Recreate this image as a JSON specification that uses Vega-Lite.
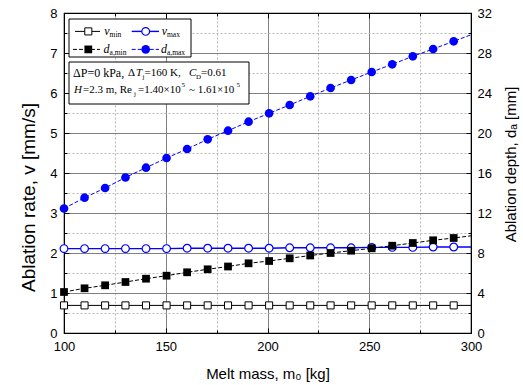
{
  "$schema": "https://vega.github.io/schema/vega-lite/v6.json",
  "width": 407,
  "height": 320,
  "autosize": {"type": "none"},
  "padding": {"left": 64, "top": 13, "right": 52, "bottom": 52},
  "background": "white",
  "config": {
    "view": {"stroke": "black", "strokeWidth": 1.2},
    "axis": {
      "labelFont": "Liberation Sans", "labelFontSize": 13, "labelColor": "black",
      "titleFont": "Liberation Sans", "titleFontSize": 15, "titleFontWeight": "normal", "titleColor": "black",
      "domainColor": "black", "tickColor": "black", "labelFlush": false, "labelOverlap": false
    },
    "text": {"color": "black", "font": "Liberation Serif"}
  },
  "datasets": {
    "series": [
      {"m": 100, "vmin": 0.69, "vmax": 2.11, "dmin": 4.1, "dmax": 12.45},
      {"m": 110.1, "vmin": 0.69, "vmax": 2.11, "dmin": 4.47, "dmax": 13.53},
      {"m": 120.2, "vmin": 0.69, "vmax": 2.11, "dmin": 4.77, "dmax": 14.5},
      {"m": 130.2, "vmin": 0.69, "vmax": 2.11, "dmin": 5.1, "dmax": 15.55},
      {"m": 140.3, "vmin": 0.69, "vmax": 2.11, "dmin": 5.43, "dmax": 16.53},
      {"m": 150.4, "vmin": 0.69, "vmax": 2.11, "dmin": 5.73, "dmax": 17.5},
      {"m": 160.5, "vmin": 0.69, "vmax": 2.12, "dmin": 6.07, "dmax": 18.4},
      {"m": 170.6, "vmin": 0.69, "vmax": 2.12, "dmin": 6.37, "dmax": 19.37},
      {"m": 180.6, "vmin": 0.69, "vmax": 2.12, "dmin": 6.65, "dmax": 20.23},
      {"m": 190.7, "vmin": 0.69, "vmax": 2.12, "dmin": 6.97, "dmax": 21.13},
      {"m": 200.8, "vmin": 0.69, "vmax": 2.12, "dmin": 7.2, "dmax": 21.97},
      {"m": 210.9, "vmin": 0.69, "vmax": 2.13, "dmin": 7.47, "dmax": 22.8},
      {"m": 221.0, "vmin": 0.69, "vmax": 2.13, "dmin": 7.75, "dmax": 23.67},
      {"m": 231.0, "vmin": 0.69, "vmax": 2.13, "dmin": 8.0, "dmax": 24.5},
      {"m": 241.1, "vmin": 0.69, "vmax": 2.13, "dmin": 8.23, "dmax": 25.3},
      {"m": 251.2, "vmin": 0.69, "vmax": 2.14, "dmin": 8.47, "dmax": 26.1},
      {"m": 261.3, "vmin": 0.69, "vmax": 2.14, "dmin": 8.73, "dmax": 26.87},
      {"m": 271.4, "vmin": 0.69, "vmax": 2.14, "dmin": 9.0, "dmax": 27.67},
      {"m": 281.4, "vmin": 0.69, "vmax": 2.15, "dmin": 9.27, "dmax": 28.4},
      {"m": 291.5, "vmin": 0.69, "vmax": 2.15, "dmin": 9.5, "dmax": 29.17},
      {"m": 300, "vmin": 0.69, "vmax": 2.15, "dmin": 9.72, "dmax": 29.82}
    ]
  },
  "data": {"name": "series"},
  "layer": [
    {
      "layer": [
        {
          "mark": {"type": "line", "color": "black", "strokeWidth": 1},
          "encoding": {
            "x": {"field": "m", "type": "quantitative", "scale": {"domain": [100, 300], "nice": false, "zero": false},
              "axis": {"orient": "bottom", "values": [100, 125, 150, 175, 200, 225, 250, 275, 300], "tickCount": 100, "format": "~g",
                "labelExpr": "datum.value % 50 == 0 ? datum.label : ''", "labelOverlap": false,
                "tickSize": {"condition": {"test": "datum.value % 50 == 0", "value": -5}, "value": -3},
                "labelPadding": 12, "grid": true,
                "gridColor": {"condition": {"test": "datum.value % 50 == 0", "value": "#808080"}, "value": "#b8b8b8"},
                "gridDash": {"condition": {"test": "datum.value % 50 == 0", "value": []}, "value": [2, 2]},
                "title": "Melt mass, m₀ [kg]", "titlePadding": 11}},
            "y": {"field": "vmin", "type": "quantitative", "scale": {"domain": [0, 8], "nice": false},
              "axis": {"orient": "left", "values": [0, 0.5, 1, 1.5, 2, 2.5, 3, 3.5, 4, 4.5, 5, 5.5, 6, 6.5, 7, 7.5, 8], "tickCount": 100, "format": "~g",
                "labelExpr": "datum.value % 1 == 0 ? datum.label : ''", "labelOverlap": false,
                "tickSize": {"condition": {"test": "datum.value % 1 == 0", "value": -5}, "value": -3},
                "labelPadding": 12, "grid": true,
                "gridColor": {"condition": {"test": "datum.value % 1 == 0", "value": "#808080"}, "value": "#b8b8b8"},
                "gridDash": {"condition": {"test": "datum.value % 1 == 0", "value": []}, "value": [2, 2]},
                "title": "Ablation rate, v [mm/s]", "titleFontSize": 19, "titleAngle": -90,
                "titleX": -36, "titleY": 184, "titleAlign": "center", "titleBaseline": "middle"}}
          }
        },
        {
          "mark": {"type": "line", "color": "#0000ff", "strokeWidth": 1.4},
          "encoding": {
            "x": {"field": "m", "type": "quantitative"},
            "y": {"field": "vmax", "type": "quantitative"}
          }
        },
        {
          "transform": [{"filter": "datum.m < 299"}],
          "mark": {"type": "point", "shape": "square", "filled": true, "fill": "white", "stroke": "black", "strokeWidth": 1, "size": 50, "opacity": 1},
          "encoding": {
            "x": {"field": "m", "type": "quantitative"},
            "y": {"field": "vmin", "type": "quantitative"}
          }
        },
        {
          "transform": [{"filter": "datum.m < 299"}],
          "mark": {"type": "point", "shape": "circle", "filled": true, "fill": "white", "stroke": "#0000ff", "strokeWidth": 1.2, "size": 60, "opacity": 1},
          "encoding": {
            "x": {"field": "m", "type": "quantitative"},
            "y": {"field": "vmax", "type": "quantitative"}
          }
        }
      ]
    },
    {
      "layer": [
        {
          "mark": {"type": "line", "color": "black", "strokeWidth": 1, "strokeDash": [4, 2]},
          "encoding": {
            "x": {"field": "m", "type": "quantitative",
              "axis": {"orient": "top", "values": [100, 125, 150, 175, 200, 225, 250, 275, 300], "tickCount": 100, "labels": false, "grid": false, "title": null,
                "tickSize": {"condition": {"test": "datum.value % 50 == 0", "value": -5}, "value": -3}}},
            "y": {"field": "dmin", "type": "quantitative", "scale": {"domain": [0, 32], "nice": false},
              "axis": {"orient": "right", "values": [0, 2, 4, 6, 8, 10, 12, 14, 16, 18, 20, 22, 24, 26, 28, 30, 32], "tickCount": 100, "format": "~g",
                "labelExpr": "datum.value % 4 == 0 ? datum.label : ''", "labelOverlap": false,
                "tickSize": {"condition": {"test": "datum.value % 4 == 0", "value": -5}, "value": -3},
                "labelPadding": 11, "grid": false,
                "title": "Ablation depth, dₐ [mm]", "titleAngle": -90, "titleX": 39, "titleY": 151,
                "titleAlign": "center", "titleBaseline": "middle"}}
          }
        },
        {
          "mark": {"type": "line", "color": "#0000ff", "strokeWidth": 1, "strokeDash": [4, 2]},
          "encoding": {
            "x": {"field": "m", "type": "quantitative"},
            "y": {"field": "dmax", "type": "quantitative"}
          }
        },
        {
          "transform": [{"filter": "datum.m < 299"}],
          "mark": {"type": "point", "shape": "square", "filled": true, "color": "black", "size": 60, "opacity": 1},
          "encoding": {
            "x": {"field": "m", "type": "quantitative"},
            "y": {"field": "dmin", "type": "quantitative"}
          }
        },
        {
          "transform": [{"filter": "datum.m < 299"}],
          "mark": {"type": "point", "shape": "circle", "filled": true, "color": "#0000ff", "size": 75, "opacity": 1},
          "encoding": {
            "x": {"field": "m", "type": "quantitative"},
            "y": {"field": "dmax", "type": "quantitative"}
          }
        }
      ]
    },
    {
      "data": {"values": [{}]},
      "layer": [
        {
          "mark": {"type": "rect", "fill": "white", "stroke": "black", "strokeWidth": 1},
          "encoding": {
            "x": {"datum": 102.46, "type": "quantitative", "axis": null},
            "x2": {"datum": 162.41},
            "y": {"datum": 7.85, "type": "quantitative", "axis": null, "scale": {"domain": [0, 8], "nice": false}},
            "y2": {"datum": 6.9}
          }
        },
        {
          "mark": {"type": "rect", "fill": "white", "stroke": "black", "strokeWidth": 1},
          "encoding": {
            "x": {"datum": 102.46, "type": "quantitative", "axis": null},
            "x2": {"datum": 190.91},
            "y": {"datum": 6.775, "type": "quantitative", "axis": null},
            "y2": {"datum": 5.725}
          }
        },
        {
          "mark": {"type": "rule", "color": "black", "strokeWidth": 1},
          "encoding": {"x": {"datum": 105.41, "type": "quantitative", "axis": null}, "x2": {"datum": 117.69}, "y": {"datum": 7.54, "type": "quantitative", "axis": null}}
        },
        {
          "mark": {"type": "point", "shape": "square", "filled": true, "fill": "white", "stroke": "black", "strokeWidth": 1, "size": 50, "opacity": 1},
          "encoding": {"x": {"datum": 111.94, "type": "quantitative", "axis": null}, "y": {"datum": 7.54, "type": "quantitative", "axis": null}}
        },
        {
          "mark": {"type": "rule", "color": "#0000ff", "strokeWidth": 1.4},
          "encoding": {"x": {"datum": 133.27, "type": "quantitative", "axis": null}, "x2": {"datum": 146.68}, "y": {"datum": 7.54, "type": "quantitative", "axis": null}}
        },
        {
          "mark": {"type": "point", "shape": "circle", "filled": true, "fill": "white", "stroke": "#0000ff", "strokeWidth": 1.2, "size": 60, "opacity": 1},
          "encoding": {"x": {"datum": 140.15, "type": "quantitative", "axis": null}, "y": {"datum": 7.54, "type": "quantitative", "axis": null}}
        },
        {
          "mark": {"type": "rule", "color": "black", "strokeWidth": 1, "strokeDash": [4, 2]},
          "encoding": {"x": {"datum": 104.4, "type": "quantitative", "axis": null}, "x2": {"datum": 117.69}, "y": {"datum": 7.09, "type": "quantitative", "axis": null}}
        },
        {
          "mark": {"type": "point", "shape": "square", "filled": true, "color": "black", "size": 60, "opacity": 1},
          "encoding": {"x": {"datum": 111.94, "type": "quantitative", "axis": null}, "y": {"datum": 7.09, "type": "quantitative", "axis": null}}
        },
        {
          "mark": {"type": "rule", "color": "#0000ff", "strokeWidth": 1, "strokeDash": [4, 2]},
          "encoding": {"x": {"datum": 133.27, "type": "quantitative", "axis": null}, "x2": {"datum": 146.68}, "y": {"datum": 7.09, "type": "quantitative", "axis": null}}
        },
        {
          "mark": {"type": "point", "shape": "circle", "filled": true, "color": "#0000ff", "size": 75, "opacity": 1},
          "encoding": {"x": {"datum": 140.15, "type": "quantitative", "axis": null}, "y": {"datum": 7.09, "type": "quantitative", "axis": null}}
        },
        {
          "mark": {"type": "text", "text": "v", "color": "black", "font": "Liberation Serif", "fontStyle": "italic", "fontSize": 12, "align": "left", "baseline": "middle"},
          "encoding": {"x": {"datum": 119.8, "type": "quantitative", "axis": null}, "y": {"datum": 7.54, "type": "quantitative", "axis": null}}
        },
        {
          "mark": {"type": "text", "text": "min", "color": "black", "font": "Liberation Serif", "fontSize": 7.5, "align": "left", "baseline": "middle", "dy": 4},
          "encoding": {"x": {"datum": 122.4, "type": "quantitative", "axis": null}, "y": {"datum": 7.54, "type": "quantitative", "axis": null}}
        },
        {
          "mark": {"type": "text", "text": "v", "color": "black", "font": "Liberation Serif", "fontStyle": "italic", "fontSize": 12, "align": "left", "baseline": "middle"},
          "encoding": {"x": {"datum": 148.01, "type": "quantitative", "axis": null}, "y": {"datum": 7.54, "type": "quantitative", "axis": null}}
        },
        {
          "mark": {"type": "text", "text": "max", "color": "black", "font": "Liberation Serif", "fontSize": 7.5, "align": "left", "baseline": "middle", "dy": 4},
          "encoding": {"x": {"datum": 150.61, "type": "quantitative", "axis": null}, "y": {"datum": 7.54, "type": "quantitative", "axis": null}}
        },
        {
          "mark": {"type": "text", "text": "d", "color": "black", "font": "Liberation Serif", "fontStyle": "italic", "fontSize": 12, "align": "left", "baseline": "middle"},
          "encoding": {"x": {"datum": 119.4, "type": "quantitative", "axis": null}, "y": {"datum": 7.09, "type": "quantitative", "axis": null}}
        },
        {
          "mark": {"type": "text", "text": "a,min", "color": "black", "font": "Liberation Serif", "fontSize": 7.5, "align": "left", "baseline": "middle", "dy": 4},
          "encoding": {"x": {"datum": 122.4, "type": "quantitative", "axis": null}, "y": {"datum": 7.09, "type": "quantitative", "axis": null}}
        },
        {
          "mark": {"type": "text", "text": "d", "color": "black", "font": "Liberation Serif", "fontStyle": "italic", "fontSize": 12, "align": "left", "baseline": "middle"},
          "encoding": {"x": {"datum": 147.67, "type": "quantitative", "axis": null}, "y": {"datum": 7.09, "type": "quantitative", "axis": null}}
        },
        {
          "mark": {"type": "text", "text": "a,max", "color": "black", "font": "Liberation Serif", "fontSize": 7.5, "align": "left", "baseline": "middle", "dy": 4},
          "encoding": {"x": {"datum": 150.61, "type": "quantitative", "axis": null}, "y": {"datum": 7.09, "type": "quantitative", "axis": null}}
        },
        {
          "mark": {"type": "text", "text": "ΔP=0 kPa,", "color": "black", "font": "Liberation Serif", "fontSize": 12, "align": "left", "baseline": "middle"},
          "encoding": {"x": {"datum": 104.42, "type": "quantitative", "axis": null}, "y": {"datum": 6.5, "type": "quantitative", "axis": null}}
        },
        {
          "mark": {"type": "text", "text": "Δ", "color": "black", "font": "Liberation Serif", "fontSize": 11, "align": "left", "baseline": "middle"},
          "encoding": {"x": {"datum": 131.45, "type": "quantitative", "axis": null}, "y": {"datum": 6.5, "type": "quantitative", "axis": null}}
        },
        {
          "mark": {"type": "text", "text": "T", "color": "black", "font": "Liberation Serif", "fontStyle": "italic", "fontSize": 11, "align": "left", "baseline": "middle"},
          "encoding": {"x": {"datum": 135.38, "type": "quantitative", "axis": null}, "y": {"datum": 6.5, "type": "quantitative", "axis": null}}
        },
        {
          "mark": {"type": "text", "text": "j", "color": "black", "font": "Liberation Serif", "fontSize": 7, "align": "left", "baseline": "middle", "dy": 4},
          "encoding": {"x": {"datum": 138.57, "type": "quantitative", "axis": null}, "y": {"datum": 6.5, "type": "quantitative", "axis": null}}
        },
        {
          "mark": {"type": "text", "text": "=160 K,", "color": "black", "font": "Liberation Serif", "fontSize": 11, "align": "left", "baseline": "middle"},
          "encoding": {"x": {"datum": 139.56, "type": "quantitative", "axis": null}, "y": {"datum": 6.5, "type": "quantitative", "axis": null}}
        },
        {
          "mark": {"type": "text", "text": "C", "color": "black", "font": "Liberation Serif", "fontStyle": "italic", "fontSize": 11, "align": "left", "baseline": "middle"},
          "encoding": {"x": {"datum": 161.43, "type": "quantitative", "axis": null}, "y": {"datum": 6.5, "type": "quantitative", "axis": null}}
        },
        {
          "mark": {"type": "text", "text": "D", "color": "black", "font": "Liberation Serif", "fontSize": 7, "align": "left", "baseline": "middle", "dy": 4},
          "encoding": {"x": {"datum": 164.86, "type": "quantitative", "axis": null}, "y": {"datum": 6.5, "type": "quantitative", "axis": null}}
        },
        {
          "mark": {"type": "text", "text": "=0.61", "color": "black", "font": "Liberation Serif", "fontSize": 11, "align": "left", "baseline": "middle"},
          "encoding": {"x": {"datum": 167.32, "type": "quantitative", "axis": null}, "y": {"datum": 6.5, "type": "quantitative", "axis": null}}
        },
        {
          "mark": {"type": "text", "text": "H", "color": "black", "font": "Liberation Serif", "fontStyle": "italic", "fontSize": 11, "align": "left", "baseline": "middle"},
          "encoding": {"x": {"datum": 104.91, "type": "quantitative", "axis": null}, "y": {"datum": 6.075, "type": "quantitative", "axis": null}}
        },
        {
          "mark": {"type": "text", "text": "=2.3 m, Re", "color": "black", "font": "Liberation Serif", "fontSize": 11, "align": "left", "baseline": "middle"},
          "encoding": {"x": {"datum": 109.34, "type": "quantitative", "axis": null}, "y": {"datum": 6.075, "type": "quantitative", "axis": null}}
        },
        {
          "mark": {"type": "text", "text": "j", "color": "black", "font": "Liberation Serif", "fontSize": 7, "align": "left", "baseline": "middle", "dy": 4},
          "encoding": {"x": {"datum": 134.4, "type": "quantitative", "axis": null}, "y": {"datum": 6.075, "type": "quantitative", "axis": null}}
        },
        {
          "mark": {"type": "text", "text": "=1.40×10", "color": "black", "font": "Liberation Serif", "fontSize": 11, "align": "left", "baseline": "middle"},
          "encoding": {"x": {"datum": 136.36, "type": "quantitative", "axis": null}, "y": {"datum": 6.075, "type": "quantitative", "axis": null}}
        },
        {
          "mark": {"type": "text", "text": "5", "color": "black", "font": "Liberation Serif", "fontSize": 7, "align": "left", "baseline": "middle", "dy": -5},
          "encoding": {"x": {"datum": 157.74, "type": "quantitative", "axis": null}, "y": {"datum": 6.075, "type": "quantitative", "axis": null}}
        },
        {
          "mark": {"type": "text", "text": "~ 1.61×10", "color": "black", "font": "Liberation Serif", "fontSize": 11, "align": "left", "baseline": "middle"},
          "encoding": {"x": {"datum": 161.43, "type": "quantitative", "axis": null}, "y": {"datum": 6.075, "type": "quantitative", "axis": null}}
        },
        {
          "mark": {"type": "text", "text": "5", "color": "black", "font": "Liberation Serif", "fontSize": 7, "align": "left", "baseline": "middle", "dy": -5},
          "encoding": {"x": {"datum": 184.77, "type": "quantitative", "axis": null}, "y": {"datum": 6.075, "type": "quantitative", "axis": null}}
        }
      ]
    }
  ],
  "resolve": {"scale": {"y": "independent"}, "axis": {"x": "independent"}}
}
